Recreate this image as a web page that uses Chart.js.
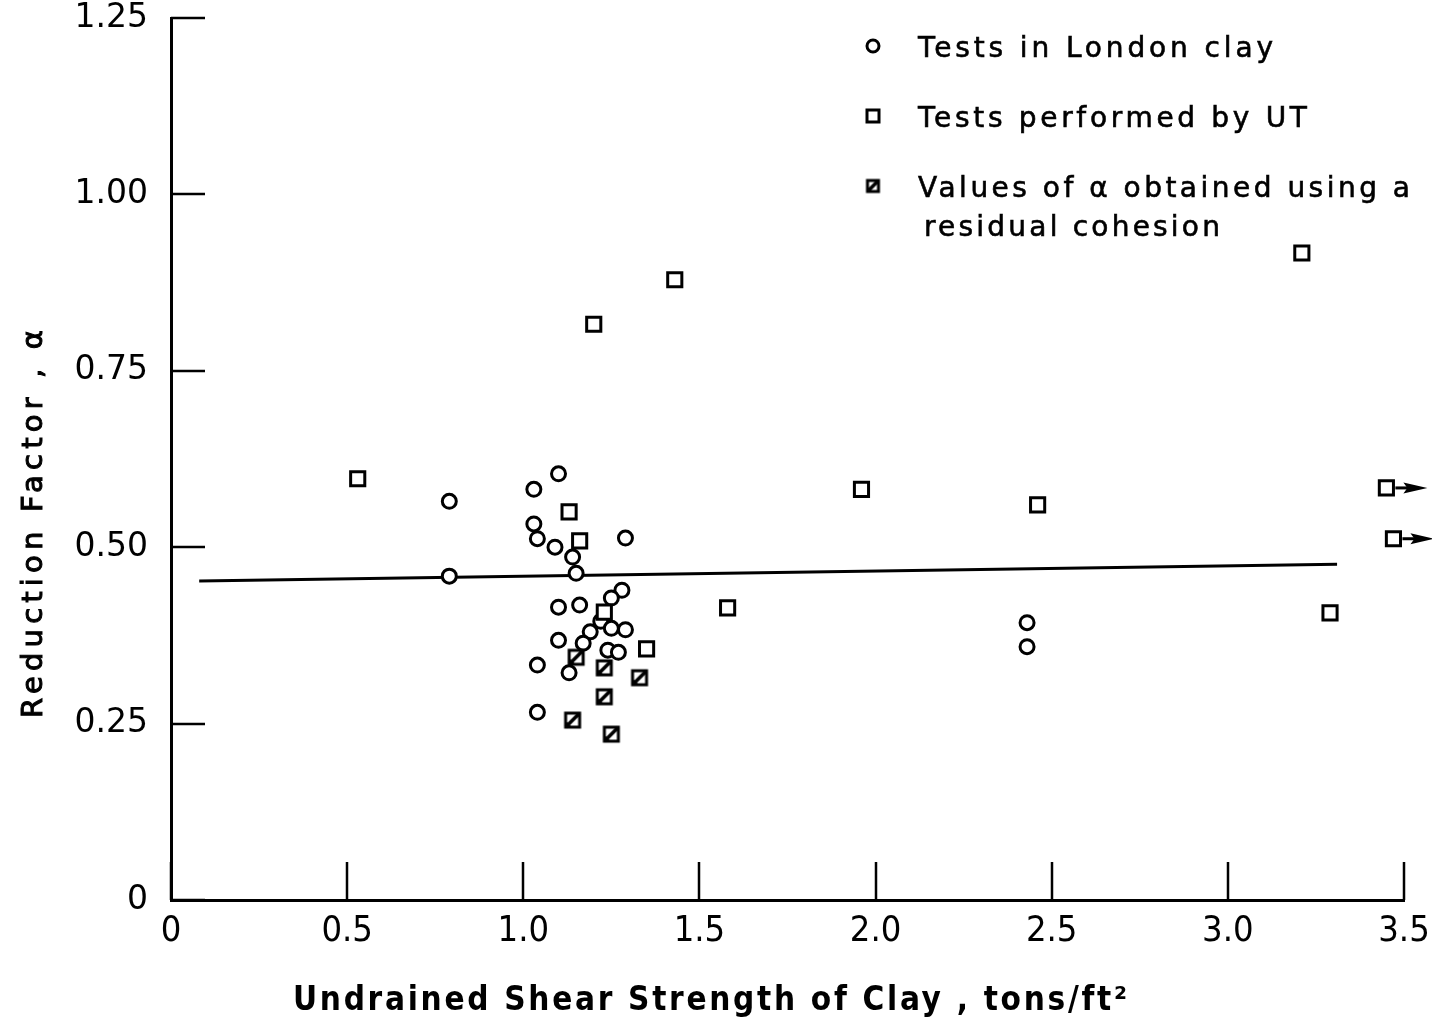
<!DOCTYPE html>
<html>
<head>
<meta charset="utf-8">
<title>Reduction factor vs undrained shear strength</title>
<script src="https://cdn.jsdelivr.net/npm/chart.js@4.4.1/dist/chart.umd.min.js"></script>
<style>
  html, body { margin: 0; padding: 0; background: #fff; }
  canvas { display: block; }
</style>
</head>
<body>
<canvas id="chart" width="1432" height="1022"></canvas>
<script>
// Tests in London clay: undrained shear strength (tons/ft²) and reduction factor α
const londonStrength = [0.79, 0.79, 1.10, 1.03, 1.03, 1.04, 1.09, 1.14, 1.15, 1.29, 1.28, 1.25, 1.10,
                        1.16, 1.22, 1.25, 1.29, 1.19, 1.17, 1.24, 1.27, 1.10, 1.04, 1.13, 1.04, 2.43, 2.43];
const londonAlpha    = [0.565, 0.459, 0.604, 0.582, 0.533, 0.512, 0.500, 0.486, 0.463, 0.513, 0.439, 0.428, 0.415,
                        0.418, 0.395, 0.385, 0.383, 0.380, 0.364, 0.354, 0.351, 0.368, 0.333, 0.322, 0.266, 0.393, 0.359];

// Tests performed by UT
const utStrength = [0.53, 1.20, 1.43, 1.13, 1.16, 1.23, 1.35, 1.58, 1.96, 2.46, 3.21, 3.29, 3.45, 3.47];
const utAlpha    = [0.597, 0.816, 0.879, 0.550, 0.509, 0.408, 0.356, 0.414, 0.582, 0.560, 0.917, 0.407, 0.584, 0.512];
// UT tests whose strength runs past the end of the axis (drawn with an arrow)
const utBeyondAxis = [12, 13];

// Values of α obtained using a residual cohesion
const residualStrength = [1.15, 1.23, 1.33, 1.23, 1.14, 1.25];
const residualAlpha    = [0.344, 0.329, 0.315, 0.288, 0.255, 0.235];

// Average trend line
const trendStrength = [0.08, 3.31];
const trendAlpha    = [0.452, 0.476];

const xTickLabels = ['0', '0.5', '1.0', '1.5', '2.0', '2.5', '3.0', '3.5'];
const yTickLabels = ['0', '0.25', '0.50', '0.75', '1.00', '1.25'];
const legendLabels = ['Tests in London clay', 'Tests performed by UT', 'Values of \u03b1 obtained using a', 'residual cohesion'];
const xTitle = 'Undrained Shear Strength of Clay , tons/ft\u00b2';
const yTitle = 'Reduction Factor , \u03b1';

const toPoints = (xs, ys) => xs.map((x, i) => ({ x: x, y: ys[i] }));

// Square marker with a heavy diagonal for the residual-cohesion values
function makeHatchedSquare(side, lw) {
  const pad = Math.ceil(lw);
  const size = side + pad * 2;
  const c = document.createElement('canvas');
  c.width = size; c.height = size;
  const g = c.getContext('2d');
  g.fillStyle = '#fff';
  g.fillRect(pad, pad, side, side);
  g.strokeStyle = '#000';
  g.lineWidth = lw;
  g.strokeRect(pad, pad, side, side);
  g.lineWidth = lw + 0.5;
  g.beginPath();
  g.moveTo(pad, pad + side);
  g.lineTo(pad + side, pad);
  g.stroke();
  g.fillStyle = '#000';
  g.beginPath();
  g.moveTo(pad, pad + side);
  g.lineTo(pad, pad + side * 0.55);
  g.lineTo(pad + side * 0.45, pad + side);
  g.closePath();
  g.fill();
  return c;
}
const hatchedMarker = makeHatchedSquare(14, 3);
const hatchedLegendMarker = makeHatchedSquare(11, 3);

// Draw text with letter spacing stretched to a given width
function fitText(ctx, text, x, y, width, thicken) {
  ctx.letterSpacing = '0px';
  const n = Array.from(text).length;
  const w = ctx.measureText(text).width;
  const s = n > 1 ? (width - w) / (n - 1) : 0;
  ctx.letterSpacing = s.toFixed(2) + 'px';
  ctx.fillText(text, x, y);
  if (thicken) {
    ctx.lineWidth = thicken;
    ctx.strokeStyle = ctx.fillStyle;
    ctx.strokeText(text, x, y);
  }
  ctx.letterSpacing = '0px';
}

// Tick marks pointing into the plot area
const inwardTicks = {
  id: 'inwardTicks',
  beforeDatasetsDraw(chart) {
    const { ctx, chartArea, scales } = chart;
    ctx.save();
    ctx.strokeStyle = '#000';
    ctx.lineWidth = 2.5;
    ctx.beginPath();
    scales.y.ticks.forEach(t => {
      const py = Math.round(scales.y.getPixelForValue(t.value));
      ctx.moveTo(chartArea.left, py);
      ctx.lineTo(chartArea.left + 34, py);
    });
    scales.x.ticks.forEach(t => {
      const px = Math.round(scales.x.getPixelForValue(t.value));
      ctx.moveTo(px, chartArea.bottom);
      ctx.lineTo(px, chartArea.bottom - 38);
    });
    ctx.stroke();
    ctx.restore();
  }
};

// Arrows for UT tests beyond the axis end
const beyondArrows = {
  id: 'beyondArrows',
  afterDatasetsDraw(chart) {
    const { ctx } = chart;
    const meta = chart.getDatasetMeta(2);
    ctx.save();
    ctx.strokeStyle = '#000';
    ctx.fillStyle = '#000';
    ctx.lineWidth = 3;
    utBeyondAxis.forEach(i => {
      const el = meta.data[i];
      if (!el) return;
      const x = el.x, y = el.y;
      ctx.beginPath();
      ctx.moveTo(x + 9, y);
      ctx.lineTo(x + 22, y);
      ctx.stroke();
      ctx.beginPath();
      ctx.moveTo(x + 17, y - 5.5);
      ctx.lineTo(x + 41, y);
      ctx.lineTo(x + 17, y + 5.5);
      ctx.lineTo(x + 21, y);
      ctx.closePath();
      ctx.fill();
    });
    ctx.restore();
  }
};

// Axis titles and the key
const titlesAndKey = {
  id: 'titlesAndKey',
  afterDraw(chart) {
    const { ctx } = chart;
    ctx.save();
    ctx.fillStyle = '#000';
    ctx.textAlign = 'left';
    ctx.textBaseline = 'alphabetic';

    ctx.font = 'bold 33px "DejaVu Sans Condensed", "DejaVu Sans", sans-serif';
    fitText(ctx, xTitle, 293, 1010, 834);

    ctx.save();
    ctx.translate(42, 718);
    ctx.rotate(-Math.PI / 2);
    ctx.font = '29px "DejaVu Sans", sans-serif';
    fitText(ctx, yTitle, 0, 0, 388, 1);
    ctx.restore();

    // Key
    ctx.font = '28px "DejaVu Sans", sans-serif';
    const rows = [
      { y: 46, base: 57, x: 918, w: 355 },
      { y: 116, base: 127, x: 918, w: 389 },
      { y: 186, base: 197, x: 918, w: 492 },
      { y: 226, base: 236, x: 924, w: 296 }
    ];
    rows.forEach((r, i) => fitText(ctx, legendLabels[i], r.x, r.base, r.w, 0.6));

    ctx.strokeStyle = '#000';
    ctx.lineWidth = 3;
    ctx.beginPath();
    ctx.arc(873, rows[0].y, 6, 0, Math.PI * 2);
    ctx.stroke();
    ctx.strokeRect(867, rows[1].y - 6, 12, 12);
    ctx.drawImage(hatchedLegendMarker, 873 - hatchedLegendMarker.width / 2, rows[2].y - hatchedLegendMarker.height / 2);
    ctx.restore();
  }
};

// Keep the plot area fixed: no extra room reserved for edge tick labels
const fixScale = size => s => {
  if (s.isHorizontal()) s.height = size; else s.width = size;
  s.paddingTop = 0; s.paddingBottom = 0; s.paddingLeft = 0; s.paddingRight = 0;
};

new Chart(document.getElementById('chart'), {
  type: 'scatter',
  data: {
    datasets: [
      {
        type: 'line',
        data: toPoints(trendStrength, trendAlpha),
        borderColor: '#000',
        borderWidth: 3,
        pointRadius: 0,
        fill: false,
        order: 5
      },
      {
        data: toPoints(londonStrength, londonAlpha),
        pointStyle: 'circle',
        pointRadius: 7,
        pointBorderWidth: 3,
        pointBorderColor: '#000',
        pointBackgroundColor: '#fff',
        order: 2
      },
      {
        data: toPoints(utStrength, utAlpha),
        pointStyle: 'rect',
        pointRadius: 10,
        pointBorderWidth: 3,
        pointBorderColor: '#000',
        pointBackgroundColor: '#fff',
        order: 1
      },
      {
        data: toPoints(residualStrength, residualAlpha),
        pointStyle: hatchedMarker,
        pointRadius: 10,
        order: 0
      }
    ]
  },
  options: {
    responsive: false,
    animation: false,
    events: [],
    devicePixelRatio: 1,
    layout: { padding: { top: 18, right: 28, left: 0, bottom: 0 } },
    plugins: { legend: { display: false }, tooltip: { enabled: false } },
    scales: {
      x: {
        type: 'linear',
        min: 0, max: 3.5,
        grid: { display: false, drawTicks: false },
        border: { display: true, color: '#000', width: 3 },
        ticks: {
          stepSize: 0.5,
          autoSkip: false,
          maxRotation: 0,
          padding: 14,
          color: '#000',
          font: { family: '"DejaVu Sans Condensed", "DejaVu Sans", sans-serif', size: 36, lineHeight: 1 },
          callback: (v, i) => xTickLabels[i]
        },
        afterFit: fixScale(122)
      },
      y: {
        type: 'linear',
        min: 0, max: 1.25,
        grid: { display: false, drawTicks: false },
        border: { display: true, color: '#000', width: 3 },
        ticks: {
          stepSize: 0.25,
          autoSkip: false,
          padding: 23,
          color: '#000',
          font: { family: '"DejaVu Sans", sans-serif', size: 33, lineHeight: 1 },
          callback: (v, i) => yTickLabels[i]
        },
        afterFit: fixScale(171)
      }
    }
  },
  plugins: [inwardTicks, beyondArrows, titlesAndKey]
});
</script>
</body>
</html>
